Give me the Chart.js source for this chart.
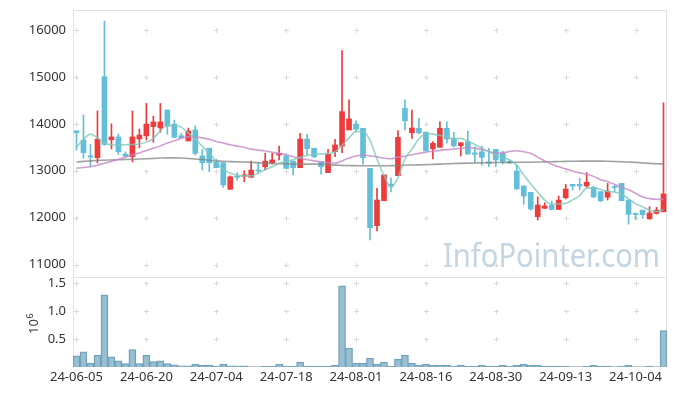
<!DOCTYPE html>
<html><head><meta charset="utf-8">
<script src="https://cdn.jsdelivr.net/npm/chart.js@4.4.1/dist/chart.umd.min.js"></script>
<style>html,body{margin:0;padding:0;background:#fff;}canvas{display:block;}</style>
</head><body>
<canvas id="c" width="677" height="396"></canvas>
<script>
const dates = ["24-06-05","24-06-07","24-06-10","24-06-11","24-06-12","24-06-13","24-06-14","24-06-17","24-06-18","24-06-19",
"24-06-20","24-06-21","24-06-24","24-06-25","24-06-26","24-06-27","24-06-28","24-07-01","24-07-02","24-07-03",
"24-07-04","24-07-05","24-07-08","24-07-09","24-07-10","24-07-11","24-07-12","24-07-15","24-07-16","24-07-17",
"24-07-18","24-07-19","24-07-22","24-07-23","24-07-24","24-07-25","24-07-26","24-07-29","24-07-30","24-07-31",
"24-08-01","24-08-02","24-08-05","24-08-06","24-08-07","24-08-08","24-08-09","24-08-12","24-08-13","24-08-14",
"24-08-16","24-08-19","24-08-20","24-08-21","24-08-22","24-08-23","24-08-26","24-08-27","24-08-28","24-08-29",
"24-08-30","24-09-02","24-09-03","24-09-04","24-09-05","24-09-06","24-09-09","24-09-10","24-09-11","24-09-12",
"24-09-13","24-09-19","24-09-20","24-09-23","24-09-24","24-09-25","24-09-26","24-09-27","24-09-30","24-10-02",
"24-10-04","24-10-07","24-10-08","24-10-10","24-10-11"];

const openP = [13850,13655,13320,13280,15005,13660,13720,13355,13300,13675,
13745,13940,13915,14295,13995,13745,13635,13870,13315,13480,
13190,13170,12605,12885,12880,12860,13015,13085,13170,13335,
13315,13205,13065,13675,13480,13190,12960,13405,13525,13870,
13995,13905,13050,11830,12360,12715,12895,14330,13810,13905,
13820,13465,13500,13905,13690,13535,13620,13380,13405,13190,
13455,13370,13205,12995,12675,12540,12020,12200,12270,12175,
12425,12710,12710,12675,12645,12555,12435,12660,12730,12375,
12090,12160,11975,12090,12125];
const highP = [13850,14190,13560,14275,16190,14000,13785,13400,14275,13890,
14435,14165,14435,14295,14080,13800,13910,13955,13455,13480,
13245,13170,12890,12960,13000,13205,13170,13370,13370,13525,
13360,13205,13800,13775,13480,13190,13455,13670,15560,14510,
14065,13905,13050,12625,12910,12850,13855,14510,14295,14115,
13830,13620,14045,14045,13820,13600,13845,13510,13525,13480,
13455,13420,13230,13120,12675,12540,12445,12320,12355,12460,
12710,12710,12840,12960,12670,12555,12730,12700,12730,12375,
12105,12160,12235,12220,14450];
const lowP = [13440,13265,13085,13170,13540,13465,13350,13290,13190,13490,
13655,13605,13820,13775,13710,13700,13635,13335,13015,12980,
13065,12645,12605,12800,12765,12860,12945,13015,13145,13230,
13050,12910,13065,13335,13280,12925,12960,13300,13385,13870,
13830,13140,11525,11720,12360,12550,12895,13870,13690,13785,
13420,13250,13500,13585,13510,13315,13355,13170,13120,13085,
13085,13150,13150,12610,12285,12160,11950,12190,12160,12175,
12400,12590,12590,12645,12420,12340,12375,12555,12360,11860,
11965,11985,11965,12075,12125];
const closeP = [13810,13385,13290,13675,13560,13720,13405,13315,13720,13760,
13995,14040,14040,13955,13710,13705,13845,13370,13170,13170,
13065,12695,12870,12860,12910,13015,12995,13205,13230,13370,
13050,13065,13675,13470,13300,13085,13350,13550,14260,14105,
13885,13280,11785,12375,12910,12675,13710,14065,13910,13810,
13420,13585,13905,13675,13530,13595,13355,13350,13285,13160,
13230,13190,13165,12610,12460,12185,12270,12250,12175,12375,
12610,12675,12675,12755,12445,12360,12565,12640,12360,12070,
12065,12065,12100,12160,12505];
const volume = [200000,270000,70000,210000,1290000,180000,110000,60000,310000,60000,
210000,95000,110000,60000,40000,20000,20000,50000,35000,35000,
15000,50000,20000,20000,20000,3000,3000,10000,10000,50000,
15000,15000,90000,15000,15000,15000,15000,30000,1450000,340000,
70000,70000,160000,50000,90000,10000,140000,210000,70000,35000,
50000,30000,30000,30000,15000,35000,15000,15000,30000,15000,
15000,30000,15000,30000,50000,30000,30000,15000,15000,15000,
15000,5000,5000,15000,30000,15000,15000,5000,15000,30000,
5000,5000,15000,5000,650000];
const ma5 = [13500,13670,13780,13700,13585,13555,13550,13555,13560,13570,
13610,13690,13850,13960,13960,13930,13800,13680,13520,13380,
13190,13030,12950,12905,12890,12890,12950,13020,13085,13160,
13195,13235,13280,13330,13350,13360,13370,13400,13540,13700,
13835,13835,13650,13250,12900,12650,12850,13250,13460,13680,
13790,13780,13750,13725,13680,13690,13630,13560,13480,13410,
13330,13280,13230,13120,12910,12720,12540,12376,12290,12290,
12305,12380,12470,12630,12640,12600,12560,12545,12500,12400,
12300,12230,12160,12130,12170];
const ma20 = [13055,13070,13086,13120,13160,13200,13245,13290,13335,13380,
13430,13478,13530,13590,13640,13690,13725,13720,13700,13670,
13625,13590,13555,13525,13495,13460,13440,13420,13395,13370,
13340,13300,13265,13235,13210,13190,13175,13160,13210,13270,
13315,13335,13315,13295,13270,13255,13290,13310,13340,13370,
13395,13415,13435,13450,13460,13480,13495,13480,13455,13410,
13375,13380,13410,13427,13405,13371,13290,13210,13140,13085,
13040,12995,12955,12925,12880,12810,12770,12710,12650,12595,
12520,12440,12405,12390,12390];
const ma120 = [13185,13200,13210,13220,13225,13230,13235,13240,13245,13250,
13255,13262,13270,13275,13275,13270,13262,13250,13240,13225,
13210,13200,13195,13190,13185,13180,13170,13160,13155,13150,
13148,13145,13143,13140,13140,13138,13130,13120,13115,13110,
13108,13105,13105,13105,13105,13108,13112,13118,13122,13126,
13130,13136,13142,13148,13154,13158,13162,13166,13170,13172,
13175,13176,13178,13180,13180,13182,13185,13190,13193,13196,
13200,13202,13205,13206,13206,13205,13202,13198,13192,13185,
13178,13168,13158,13150,13145];
const priceTicks = [11000,12000,13000,14000,15000,16000];
const volTicks = [500000,1000000,1500000];
const volPanelTop = 1605000;
const priceAxisMin = 8817, priceAxisMax = 16426;
const volAxisMax = 6375000;
const labelEvery = 10;

const UP = '#ee3b3b', DOWN = '#63bfd9';
const candleColors = closeP.map((c,i) => c >= openP[i] ? UP : DOWN);
const FONT = '"Noto Sans", sans-serif';

const deco = {
  id: 'deco',
  beforeDatasetsDraw(chart) {
    const {ctx, chartArea: a, scales} = chart;
    const x = scales.x, y = scales.y, yv = scales.yv;
    const sep = Math.round(yv.getPixelForValue(volPanelTop)) + 0.5;
    ctx.save();
    ctx.font = '32px ' + FONT;
    const w = ctx.measureText('InfoPointer.com').width;
    ctx.translate(443, 267);
    ctx.scale(217 / w, 1);
    ctx.fillStyle = '#c3d5e0';
    ctx.textBaseline = 'alphabetic';
    ctx.fillText('InfoPointer.com', 0, 0);
    ctx.restore();
    ctx.save();
    ctx.strokeStyle = '#e2e2e2';
    ctx.lineWidth = 1;
    const L = Math.round(a.left) + 0.5, R = Math.round(a.right) - 0.5;
    const T = Math.round(a.top) + 0.5, B = Math.round(a.bottom) - 0.5;
    ctx.strokeRect(L, T, R - L, sep - T);
    ctx.beginPath();
    ctx.moveTo(L, sep); ctx.lineTo(L, B); ctx.lineTo(R, B); ctx.lineTo(R, sep);
    ctx.stroke();
    ctx.strokeStyle = '#dadada';
    ctx.beginPath();
    for (let i = 0; i < dates.length; i += labelEvery) {
      const px = Math.round(x.getPixelForValue(i)) + 0.5;
      const ys = priceTicks.map(v => y.getPixelForValue(v)).concat(volTicks.map(v => yv.getPixelForValue(v)));
      ys.forEach(py => {
        py = Math.round(py) + 0.5;
        ctx.moveTo(px - 2.5, py); ctx.lineTo(px + 2.5, py);
        ctx.moveTo(px, py - 2.5); ctx.lineTo(px, py + 2.5);
      });
    }
    ctx.stroke();
    ctx.restore();
  },
  afterDraw(chart) {
    const {ctx, scales} = chart;
    const yv = scales.yv;
    ctx.save();
    ctx.fillStyle = '#333';
    ctx.font = '13px ' + FONT;
    ctx.textAlign = 'right';
    ctx.textBaseline = 'middle';
    volTicks.forEach(v => ctx.fillText((v / 1e6).toFixed(1), 66, yv.getPixelForValue(v)));
    ctx.translate(38, 327);
    ctx.rotate(-Math.PI / 2);
    ctx.textAlign = 'left';
    ctx.textBaseline = 'alphabetic';
    ctx.fillText('10', -7, 0);
    ctx.font = '9px ' + FONT;
    ctx.fillText('6', 8.5, -5);
    ctx.restore();
  }
};

new Chart(document.getElementById('c'), {
  data: {
    labels: dates,
    datasets: [
      {type:'line', label:'MA5', data: ma5, yAxisID:'y', borderColor:'rgba(128,200,184,0.8)', borderWidth:1.6, pointRadius:0, cubicInterpolationMode:'monotone', order:0},
      {type:'line', label:'MA20', data: ma20, yAxisID:'y', borderColor:'rgba(196,135,196,0.8)', borderWidth:1.6, pointRadius:0, cubicInterpolationMode:'monotone', order:0},
      {type:'line', label:'MA120', data: ma120, yAxisID:'y', borderColor:'rgba(130,130,130,0.75)', borderWidth:1.6, pointRadius:0, cubicInterpolationMode:'monotone', order:0},
      {type:'bar', label:'wick', data: lowP.map((l,i) => [l, highP[i]]), yAxisID:'y', backgroundColor: candleColors, barThickness:1, grouped:false, order:2},
      {type:'bar', label:'body', data: openP.map((o,i) => [o, closeP[i]]), yAxisID:'y', backgroundColor: candleColors, barThickness:5, minBarLength:1, grouped:false, order:1},
      {type:'bar', label:'volume', data: volume, yAxisID:'yv', backgroundColor:'rgba(135,180,202,0.85)', borderColor:'#6d9db5', borderWidth:1, categoryPercentage:1, barPercentage:1, grouped:false, order:3}
    ]
  },
  options: {
    responsive:false, animation:false, devicePixelRatio:1,
    layout:{padding:{top:10, right:10, left:0, bottom:0}},
    plugins:{legend:{display:false}, tooltip:{enabled:false}},
    scales:{
      x:{type:'category', offset:true, grid:{display:false, drawTicks:false}, border:{display:false},
         ticks:{autoSkip:false, maxRotation:0, minRotation:0, padding:2, color:'#333', font:{family:'Noto Sans', size:13},
                callback:(v,i) => i % labelEvery === 0 ? dates[i] : ''},
         afterFit:s => { s.height = 29; s.paddingLeft = 0; s.paddingRight = 0; }},
      y:{type:'linear', position:'left', min:priceAxisMin, max:priceAxisMax, grid:{display:false, drawTicks:false}, border:{display:false},
         ticks:{padding:7, color:'#333', font:{family:'Noto Sans', size:13}, callback:v => String(v)},
         afterBuildTicks:s => { s.ticks = priceTicks.map(v => ({value:v})); },
         afterFit:s => { s.width = 73; s.paddingTop = 0; s.paddingBottom = 0; }},
      yv:{type:'linear', position:'left', display:false, min:0, max:volAxisMax}
    }
  },
  plugins:[deco]
});
</script>
</body></html>
